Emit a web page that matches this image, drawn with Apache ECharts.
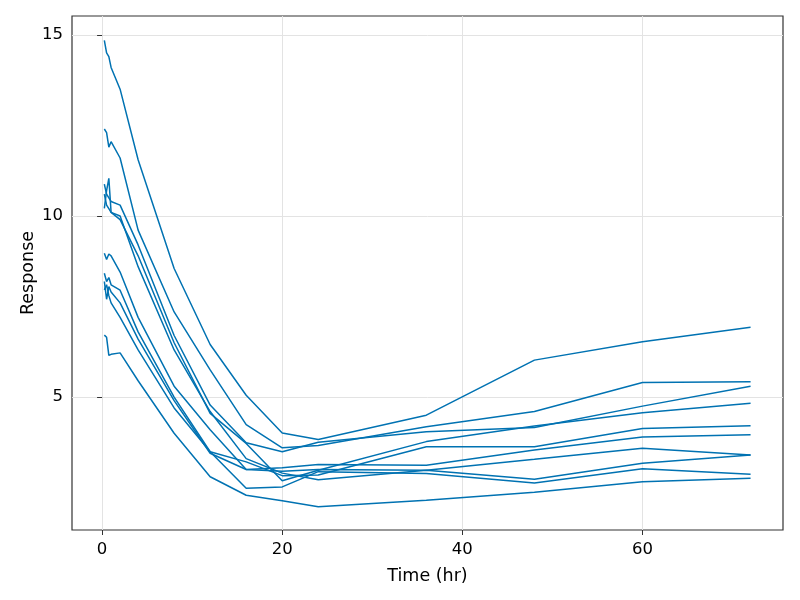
<!DOCTYPE html>
<html><head><meta charset="utf-8">
<script src="https://cdn.jsdelivr.net/npm/echarts@6/dist/echarts.min.js"></script>
<style>html,body{margin:0;padding:0;background:#fff}#c{width:800px;height:600px}</style>
</head><body><div id="c"></div>
<script>
const times = [0.25,0.5,0.75,1,2,4,8,12,16,20,24,36,48,60,72];
const s1  = [14.85,14.5,14.4,14.1,13.5,11.55,8.55,6.45,5.05,4.01,3.83,4.50,6.02,6.53,6.93];
const s2  = [12.4,12.3,11.9,12.05,11.6,9.61,7.35,5.75,4.24,3.60,3.66,4.18,4.60,5.40,5.42];
const s3  = [10.88,10.6,10.5,10.4,10.3,9.2,6.7,4.78,3.74,3.49,3.75,4.04,4.16,4.75,5.30];
const s4  = [10.21,10.7,11.04,10.1,9.9,8.9,6.5,4.55,3.72,2.69,2.98,3.77,4.20,4.57,4.83];
const s5  = [10.6,10.3,10.2,10.1,10.0,8.6,6.3,4.6,3.3,2.9,2.72,2.98,2.73,3.17,3.40];
const s6  = [8.97,8.8,8.95,8.9,8.45,7.2,5.3,4.1,3.0,3.05,3.14,3.12,3.54,3.90,3.96];
const s7  = [8.42,8.19,8.3,8.1,7.95,6.8,5.0,3.49,3.21,2.83,2.85,3.63,3.63,4.13,4.21];
const s8  = [8.19,7.7,8.05,7.9,7.6,6.6,4.9,3.45,3.0,2.95,3.0,2.98,3.28,3.59,3.40];
const s9  = [7.96,8.1,7.8,7.6,7.2,6.3,4.7,3.49,2.48,2.52,2.94,2.89,2.63,3.02,2.87];
const s10 = [6.71,6.65,6.15,6.18,6.22,5.45,4.0,2.80,2.29,2.14,1.97,2.15,2.37,2.66,2.76];
const subjects = [s1,s2,s3,s4,s5,s6,s7,s8,s9,s10];
const xTicks = [0,20,40,60];
const yTicks = [5,10,15];

const chart = echarts.init(document.getElementById('c'), null, {renderer:'canvas'});
const font = 'DejaVu Sans';
chart.setOption({
  animation:false,
  grid:{left:72,right:17,top:16,bottom:70,show:true,borderColor:'#333333',borderWidth:1.2,backgroundColor:'transparent'},
  xAxis:{type:'value',min:-3.34,max:75.6,name:'Time (hr)',nameLocation:'middle',nameGap:37,
    nameTextStyle:{fontFamily:font,fontSize:17.5,color:'#000'},
    axisLine:{show:false},
    axisTick:{show:true,customValues:xTicks,length:5,inside:false,lineStyle:{color:'#333333'}},
    axisLabel:{customValues:xTicks,fontFamily:font,fontSize:16.5,color:'#000',margin:11},
    splitLine:{show:true,lineStyle:{color:'#e3e3e3',width:1}}},
  yAxis:{type:'value',min:1.33,max:15.52,name:'Response',nameLocation:'middle',nameGap:35,nameMoveOverlap:false,
    nameTextStyle:{fontFamily:font,fontSize:17.5,color:'#000'},
    axisLine:{show:false},
    axisTick:{show:true,customValues:yTicks,length:5,lineStyle:{color:'#333333'}},
    axisLabel:{customValues:yTicks,fontFamily:font,fontSize:16.5,color:'#000',margin:9},
    splitLine:{show:true,lineStyle:{color:'#e3e3e3',width:1}}},
  series: subjects.map((s,i)=>({type:'line',name:'S'+(i+1),showSymbol:false,symbol:'none',
    data: times.map((t,k)=>[t,s[k]]),lineStyle:{color:'#0072B2',width:1.5},z:3}))
});
</script></body></html>
